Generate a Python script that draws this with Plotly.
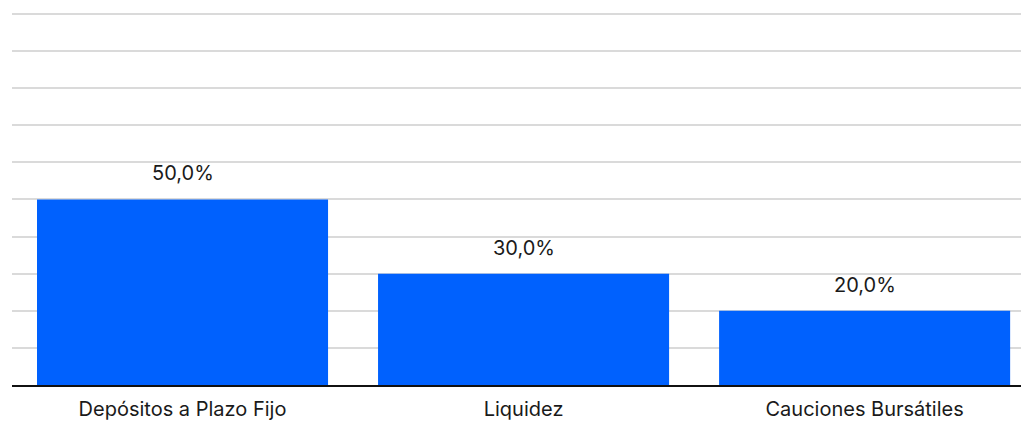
import plotly.graph_objects as go

categories = ["Depósitos a Plazo Fijo", "Liquidez", "Cauciones Bursátiles"]
values = [50.0, 30.0, 20.0]
y_ticks = [0, 10, 20, 30, 40, 50, 60, 70, 80, 90, 100]

BAR_COLOR = "#0061FE"
FONT = "Inter, Roboto, Liberation Sans, sans-serif"

fig = go.Figure()
fig.add_trace(go.Bar(
    x=categories,
    y=values,
    marker=dict(color=BAR_COLOR, line=dict(width=0)),
    hoverinfo="skip",
))

for c, v in zip(categories, values):
    fig.add_annotation(
        x=c, y=v, xref="x", yref="y",
        text=f"{v:.1f}".replace(".", ",") + "%",
        showarrow=False, yanchor="bottom", yshift=12,
        font=dict(family=FONT, size=20, color="#1a1a1a"),
    )

# page body has an 8px margin, so the figure is sized to fit inside the window
fig.update_layout(
    width=1021, height=413,
    margin=dict(l=4, r=0, t=4, b=36, autoexpand=False),
    plot_bgcolor="white", paper_bgcolor="white",
    bargap=0.1466,
    showlegend=False,
    font=dict(family=FONT, size=20, color="#1a1a1a"),
)
fig.update_xaxes(
    range=[-0.5, 2.482], automargin=False,
    showgrid=False, showline=True, linecolor="#111111", linewidth=1.5,
    ticks="", tickfont=dict(family=FONT, size=20, color="#1a1a1a"),
    ticklabelstandoff=5,
)
fig.update_yaxes(
    range=[0, 100.5], tickvals=y_ticks, showticklabels=False, automargin=False,
    showgrid=True, gridcolor="#dadada", gridwidth=1.5,
    zeroline=False, showline=False,
)

fig.write_html("out.html")
